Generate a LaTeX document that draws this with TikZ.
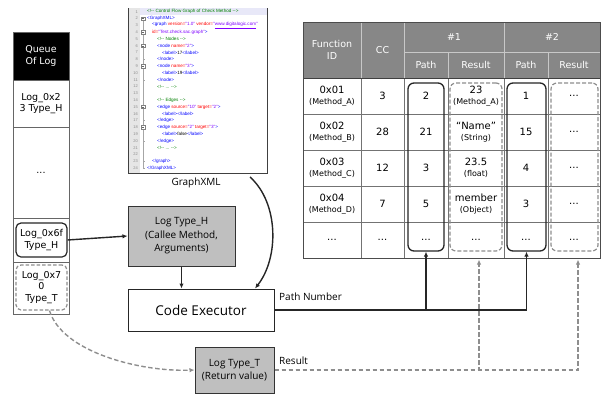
\documentclass[tikz,border=0pt]{standalone}
\usepackage{fontspec}
\setmainfont{DejaVu Sans}
\newfontfamily\osans{Open Sans}
\newfontfamily\lsans{Liberation Sans}
\usetikzlibrary{arrows.meta,calc}
\definecolor{hdr}{HTML}{878787}
\definecolor{hline}{HTML}{C8C8C8}
\definecolor{boxgray}{HTML}{BFBFBF}
\definecolor{dgray}{HTML}{8E8E8E}
\definecolor{xgreen}{HTML}{008000}
\definecolor{xblue}{HTML}{0000FF}
\definecolor{xred}{HTML}{FF0000}
\definecolor{xpurple}{HTML}{8000FF}
\definecolor{gutter}{HTML}{E6E6E6}
\definecolor{hilite}{HTML}{E8E8F8}
\newcommand\xcm[1]{\textcolor{xgreen}{#1}}
\newcommand\xtg[1]{\textcolor{xblue}{#1}}
\newcommand\xat[1]{\textcolor{xred}{#1}}
\newcommand\xvl[1]{\textcolor{xpurple}{#1}}
\newcommand\smtxt[1]{{\fontsize{8}{9.5}\selectfont #1}}
\begin{document}
\begin{tikzpicture}[x=1pt,y=-1pt,
 qcell/.style={draw=black!60, line width=0.8pt, minimum width=56pt, inner sep=0pt, align=center, font=\fontsize{9.5}{11.5}\selectfont},
 logbox/.style={draw=black!85, line width=1.2pt, rounded corners=5pt, inner sep=0pt, align=center, font=\fontsize{9.5}{11.5}\selectfont},
 graybox/.style={draw=black!80, line width=1pt, fill=boxgray, inner sep=0pt, align=center, font=\osans\fontsize{10}{13.5}\selectfont},
 hcell/.style={draw=hline, line width=0.6pt, fill=hdr, text=white, inner sep=0pt, align=center, font=\fontsize{9.5}{11.5}\selectfont},
 bcell/.style={draw=black!55, line width=0.6pt, inner sep=0pt, align=center, font=\fontsize{10}{11.5}\selectfont, minimum height=36pt},
 wA/.style={minimum width=58pt}, wB/.style={minimum width=43pt}, wC/.style={minimum width=44pt},
 wD/.style={minimum width=56pt}, wE/.style={minimum width=44pt}, wF/.style={minimum width=52pt},
 pathbox/.style={draw=black!85, line width=1.3pt, rounded corners=6pt, minimum height=168pt, inner sep=0pt},
 resbox/.style={draw=dgray, line width=1.2pt, dash pattern=on 4pt off 2pt, rounded corners=6pt, minimum height=168pt, inner sep=0pt},
 sarr/.style={draw=black!85, line width=1.4pt, -{Latex[length=5pt,width=4.5pt]}},
 darr/.style={draw=dgray, line width=1.4pt, dash pattern=on 4.5pt off 2.5pt, -{Latex[length=5pt,width=4.5pt]}},
 lbl/.style={inner sep=0pt, font=\osans\fontsize{10}{12}\selectfont},
 ln/.style={anchor=east, inner sep=0pt, text=black!45, font=\lsans\fontsize{4}{4.5}\selectfont},
 cd/.style={anchor=west, inner sep=0pt, font=\lsans\fontsize{4.6}{5}\selectfont}
]
\useasboundingbox (0,0) rectangle (601,396);
\fill[white] (0,0) rectangle (601,396);

% ---------- Queue of log ----------
\node[qcell, fill=black, text=white, minimum height=48pt] (qh) at (41,56) {Queue\\Of Log};
\node[qcell, minimum height=47pt] (q1) at (41,103.5) {Log\_0x2\\3 Type\_H};
\node[qcell, minimum height=91pt] (q2) at (41,172.5) {...};
\node[qcell, minimum height=44pt] (q3) at (41,240) {};
\node[qcell, minimum height=52pt] (q4) at (41,288) {};
\node[logbox, minimum width=51pt, minimum height=34pt] (l6f) at (41.5,240) {Log\_0x6f\\Type\_H};
\node[logbox, draw=dgray, dash pattern=on 3.5pt off 2pt, minimum width=51pt, minimum height=45pt] (l70) at (41.5,287.5) {Log\_0x7\\0\\Type\_T};

% ---------- GraphXML screenshot ----------
\node[draw=black!75, line width=0.8pt, minimum width=139pt, minimum height=165pt, inner sep=0pt] (code) at (197.5,90.5) {};
\fill[gutter] (128.5,8.5) rectangle (140,172.5);
\fill[hilite] (140,8.5) rectangle (266.5,15.2);
\draw[black!35, line width=0.3pt] (143.3,18.5) -- (143.3,168.5);
\foreach \l in {2,4,6,9,15,18}{
  \draw[black!50, line width=0.3pt, fill=white] (141.6,{11.7+(\l-1)*6.8-1.7}) rectangle (145,{11.7+(\l-1)*6.8+1.7});
  \draw[black!60, line width=0.3pt] (142.2,{11.7+(\l-1)*6.8}) -- (144.4,{11.7+(\l-1)*6.8});
}
\foreach \l in {8,11,17,20,23,24}{
  \draw[black!35, line width=0.3pt] (143.3,{11.7+(\l-1)*6.8}) -- (145.3,{11.7+(\l-1)*6.8});
}
\foreach \i in {1,...,24}{
  \node[ln] (ln\i) at (138,{11.7+(\i-1)*6.8}) {\i};
}
\node[cd] (c1) at (147,11.7) {\xcm{<!-{}-\ Control Flow Graph of Check Method -{}->}};
\node[cd] (c2) at (147,18.5) {\xtg{<GraphXML>}};
\node[cd] (c3) at (152,25.3) {\xtg{<graph}\xat{\ version=}\xvl{"1.0"}\xat{\ vendor=}\xvl{"\underline{www.digitalogic.com}"}};
\node[cd] (c4) at (152,32.1) {\xat{id=}\xvl{"Test.check.sac.graph"}\xtg{>}};
\node[cd] (c5) at (157,38.9) {\xcm{<!-{}-\ Nodes -{}->}};
\node[cd] (c6) at (157,45.7) {\xtg{<node}\xat{\ name=}\xvl{"2"}\xtg{>}};
\node[cd] (c7) at (162,52.5) {\xtg{<label>}17\xtg{</label>}};
\node[cd] (c8) at (157,59.3) {\xtg{</node>}};
\node[cd] (c9) at (157,66.1) {\xtg{<node}\xat{\ name=}\xvl{"3"}\xtg{>}};
\node[cd] (c10) at (162,72.9) {\xtg{<label>}19\xtg{</label>}};
\node[cd] (c11) at (157,79.7) {\xtg{</node>}};
\node[cd] (c12) at (157,86.5) {\xcm{<!-{}-\ ... -{}->}};
\node[cd] (c14) at (157,100.1) {\xcm{<!-{}-\ Edges -{}->}};
\node[cd] (c15) at (157,106.9) {\xtg{<edge}\xat{\ source=}\xvl{"10"}\xat{\ target=}\xvl{"2"}\xtg{>}};
\node[cd] (c16) at (162,113.7) {\xtg{<label></label>}};
\node[cd] (c17) at (157,120.5) {\xtg{</edge>}};
\node[cd] (c18) at (157,127.3) {\xtg{<edge}\xat{\ source=}\xvl{"2"}\xat{\ target=}\xvl{"3"}\xtg{>}};
\node[cd] (c19) at (162,134.1) {\xtg{<label>}false\xtg{</label>}};
\node[cd] (c20) at (157,140.9) {\xtg{</edge>}};
\node[cd] (c21) at (157,147.7) {\xcm{<!-{}-\ ... -{}->}};
\node[cd] (c23) at (152,161.3) {\xtg{</graph>}};
\node[cd] (c24) at (147,168.1) {\xtg{</GraphXML>}};
\node[lbl] (gx) at (196,183) {GraphXML};
\coordinate (gs) at (250,177);

% ---------- Middle boxes ----------
\node[graybox, minimum width=107pt, minimum height=60pt] (hb) at (181.5,236) {Log Type\_H\\(Callee Method,\\Arguments)};
\node[draw=black!85, line width=1pt, fill=white, minimum width=146pt, minimum height=42pt, inner sep=0pt, font=\osans\fontsize{13.5}{15}\selectfont] (ce) at (201,310) {Code Executor};
\node[graybox, minimum width=79pt, minimum height=46pt] (tt) at (234.5,370) {Log Type\_T\\(Return value)};
\node[lbl, anchor=west] (pn) at (279,297) {Path Number};
\node[lbl, anchor=west] (rs) at (279,361) {Result};

% ---------- Table ----------
\node[hcell, minimum width=58pt, minimum height=56pt] (hf) at (332,50) {Function\\ID};
\node[hcell, minimum width=43pt, minimum height=56pt] (hcc) at (382.5,50) {CC};
\node[hcell, minimum width=100pt, minimum height=30pt] (h1) at (454,37) {\#1};
\node[hcell, minimum width=96pt, minimum height=30pt] (h2) at (552,37) {\#2};
\node[hcell, minimum width=44pt, minimum height=26pt] (hp1) at (426,65) {Path};
\node[hcell, minimum width=56pt, minimum height=26pt] (hr1) at (476,65) {Result};
\node[hcell, minimum width=44pt, minimum height=26pt] (hp2) at (526,65) {Path};
\node[hcell, minimum width=52pt, minimum height=26pt] (hr2) at (574,65) {Result};

\node[bcell,wA] (a1) at (332,96) {0x01\\\smtxt{(Method\_A)}};
\node[bcell,wB] (b1) at (382.5,96) {3};
\node[bcell,wC] (c1t) at (426,96) {2};
\node[bcell,wD] (d1) at (476,96) {23\\\smtxt{(Method\_A)}};
\node[bcell,wE] (e1) at (526,96) {1};
\node[bcell,wF] (f1) at (574,96) {...};

\node[bcell,wA] (a2) at (332,132) {0x02\\\smtxt{(Method\_B)}};
\node[bcell,wB] (b2) at (382.5,132) {28};
\node[bcell,wC] (c2t) at (426,132) {21};
\node[bcell,wD] (d2) at (476,132) {“Name”\\\smtxt{(String)}};
\node[bcell,wE] (e2) at (526,132) {15};
\node[bcell,wF] (f2) at (574,132) {...};

\node[bcell,wA] (a3) at (332,168) {0x03\\\smtxt{(Method\_C)}};
\node[bcell,wB] (b3) at (382.5,168) {12};
\node[bcell,wC] (c3t) at (426,168) {3};
\node[bcell,wD] (d3) at (476,168) {23.5\\\smtxt{(float)}};
\node[bcell,wE] (e3) at (526,168) {4};
\node[bcell,wF] (f3) at (574,168) {...};

\node[bcell,wA] (a4) at (332,204) {0x04\\\smtxt{(Method\_D)}};
\node[bcell,wB] (b4) at (382.5,204) {7};
\node[bcell,wC] (c4t) at (426,204) {5};
\node[bcell,wD] (d4) at (476,204) {member\\\smtxt{(Object)}};
\node[bcell,wE] (e4) at (526,204) {3};
\node[bcell,wF] (f4) at (574,204) {...};

\node[bcell,wA] (a5) at (332,240) {...};
\node[bcell,wB] (b5) at (382.5,240) {...};
\node[bcell,wC] (c5t) at (426,240) {...};
\node[bcell,wD] (d5) at (476,240) {...};
\node[bcell,wE] (e5) at (526,240) {...};
\node[bcell,wF] (f5) at (574,240) {...};

\draw[black!75, line width=0.8pt] (303,78) -- (600,78);
\draw[black!70, line width=0.9pt] (303,22) rectangle (600,258);

\node[pathbox, minimum width=36pt] (p1) at (426,167) {};
\node[resbox, minimum width=52pt] (r1) at (476,167) {};
\node[pathbox, minimum width=39pt] (p2) at (526.5,167) {};
\node[resbox, minimum width=47pt] (r2) at (574.5,167) {};

% ---------- Connectors ----------
\draw[sarr] (l6f.east) -- (hb.west);
\draw[sarr] (hb.south) -- (hb.south |- ce.north);
\draw[sarr] (gs) .. controls (279,203) and (279,258) .. ([xshift=54pt]ce.north);
\draw[darr] ([xshift=8pt]l70.south) .. controls (62,352) and (140,372) .. (tt.west);
\draw[sarr] (ce.east) -| (p1.south);
\draw[sarr] (ce.east) -| (p2.south);
\draw[darr] (tt.east) -| ([xshift=3pt,yshift=-8pt]r1.south);
\draw[darr] (tt.east) -| ([xshift=3.5pt,yshift=-8pt]r2.south);
\end{tikzpicture}
\end{document}
